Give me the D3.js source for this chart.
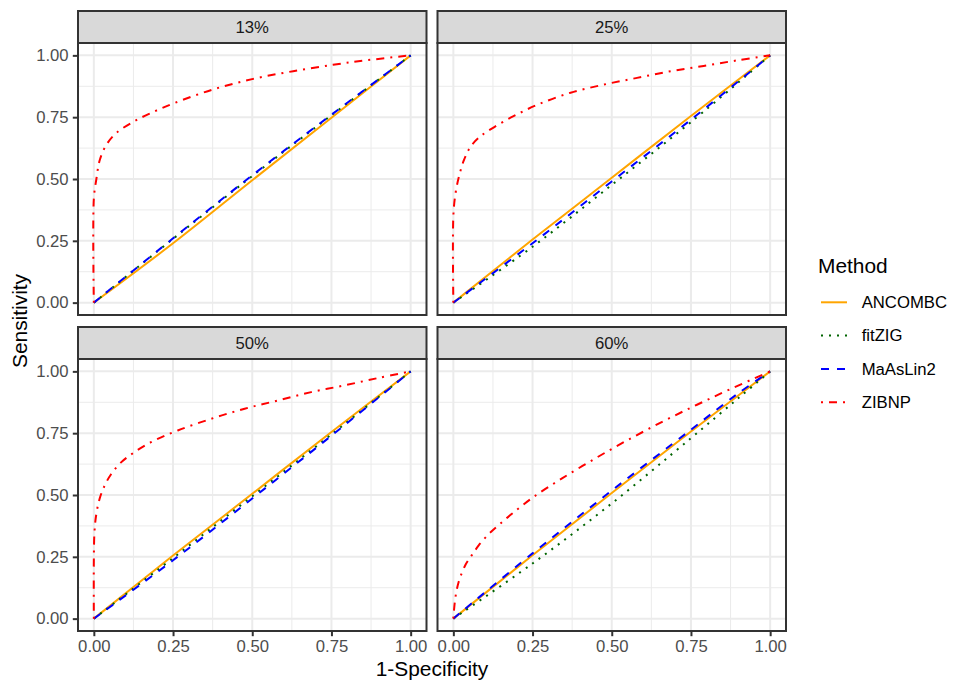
<!DOCTYPE html>
<html>
<head>
<meta charset="utf-8">
<script src="https://cdn.jsdelivr.net/npm/d3@7"></script>
<style>
  body { margin: 0; background: #fff; }
  svg { display: block; }
  text { font-family: "Liberation Sans", Arial, Helvetica, sans-serif; }
</style>
</head>
<body>
<div id="chart"></div>
<script>
const panels     = ["13%", "25%", "50%", "60%"];
const methods    = ["ANCOMBC", "fitZIG", "MaAsLin2", "ZIBNP"];
const ticks      = [0, 0.25, 0.5, 0.75, 1];
const tickLabels = ["0.00", "0.25", "0.50", "0.75", "1.00"];
const minorTicks = [0.125, 0.375, 0.625, 0.875];

// [1-specificity, sensitivity], one curve per panel
const ancombc = [
  [[0, 0], [0.25, 0.24], [0.5, 0.495], [0.75, 0.748], [1, 1]],
  [[0, 0], [0.25, 0.255], [0.5, 0.505], [0.75, 0.755], [1, 1]],
  [[0, 0], [0.25, 0.255], [0.5, 0.505], [0.75, 0.755], [1, 1]],
  [[0, 0], [0.25, 0.256], [0.5, 0.508], [0.75, 0.757], [1, 1]]
];
const fitzig = [
  [[0, 0], [0.25, 0.258], [0.5, 0.512], [0.75, 0.758], [1, 1]],
  [[0, 0], [0.25, 0.226], [0.5, 0.476], [0.75, 0.73], [1, 1]],
  [[0, 0], [0.25, 0.245], [0.5, 0.495], [0.75, 0.745], [1, 1]],
  [[0, 0], [0.25, 0.223], [0.5, 0.466], [0.75, 0.73], [0.9, 0.892], [1, 1]]
];
const maaslin2 = [
  [[0, 0], [0.25, 0.26], [0.5, 0.515], [0.75, 0.76], [1, 1]],
  [[0, 0], [0.25, 0.24], [0.5, 0.49], [0.75, 0.74], [1, 1]],
  [[0, 0], [0.25, 0.236], [0.5, 0.486], [0.75, 0.74], [1, 1]],
  [[0, 0], [0.25, 0.264], [0.5, 0.518], [0.75, 0.764], [0.9, 0.912], [1, 1]]
];
const zibnp = [
  [[0, 0], [0, 0.42], [0.008, 0.5], [0.019, 0.578], [0.04, 0.639], [0.071, 0.686], [0.124, 0.731],
   [0.177, 0.765], [0.25, 0.805], [0.376, 0.862], [0.503, 0.905], [0.629, 0.936], [0.755, 0.962],
   [0.86, 0.98], [1, 1]],
  [[0, 0], [0, 0.35], [0.007, 0.443], [0.018, 0.511], [0.034, 0.578], [0.055, 0.632], [0.086, 0.673],
   [0.128, 0.709], [0.19, 0.754], [0.265, 0.8], [0.37, 0.849], [0.476, 0.882], [0.58, 0.909],
   [0.686, 0.936], [0.79, 0.957], [0.897, 0.98], [1, 1]],
  [[0, 0], [0, 0.24], [0.002, 0.35], [0.007, 0.416], [0.018, 0.484], [0.034, 0.538], [0.055, 0.585],
   [0.086, 0.632], [0.128, 0.673], [0.19, 0.72], [0.265, 0.761], [0.37, 0.808], [0.476, 0.849],
   [0.58, 0.882], [0.686, 0.916], [0.79, 0.943], [0.897, 0.973], [1, 1]],
  [[0, 0], [0.006, 0.081], [0.017, 0.149], [0.038, 0.217], [0.059, 0.258], [0.08, 0.296],
   [0.111, 0.341], [0.143, 0.378], [0.185, 0.424], [0.25, 0.489], [0.343, 0.567], [0.448, 0.648],
   [0.553, 0.724], [0.664, 0.799], [0.769, 0.865], [0.874, 0.928], [1, 1]]
];

const series = [ancombc, fitzig, maaslin2, zibnp];
const colors = ["#FFA500", "#006400", "#0000FF", "#FF0000"];
const dashes = [null, "2,6", "8,8", "2,6,8,6"];

const width   = 969;
const height  = 692;
const colX    = [78, 437.5];
const rowY    = [11, 327];
const panelW  = 348.5;
const panelH  = 272;
const stripH  = 32;
const small   = 16.7;
const big     = 20.9;
const lw      = 2;

const svg = d3.select("#chart").append("svg")
  .attr("width", width)
  .attr("height", height);

const x = d3.scaleLinear().domain([-0.05, 1.05]).range([0, panelW]);
const y = d3.scaleLinear().domain([-0.05, 1.05]).range([stripH + panelH, stripH]);

const line = d3.line()
  .x(d => x(d[0]))
  .y(d => y(d[1]))
  .curve(d3.curveCatmullRom.alpha(0.5));

panels.forEach((name, i) => {
  const col = i % 2, row = Math.floor(i / 2);
  const g = svg.append("g")
    .attr("transform", "translate(" + colX[col] + "," + rowY[row] + ")");

  g.append("rect")
    .attr("y", stripH).attr("width", panelW).attr("height", panelH)
    .attr("fill", "#fff");

  // grid
  g.selectAll(".minor-v").data(minorTicks).enter().append("line")
    .attr("x1", d => x(d)).attr("x2", d => x(d))
    .attr("y1", stripH).attr("y2", stripH + panelH)
    .attr("stroke", "#EBEBEB").attr("stroke-width", 1);
  g.selectAll(".minor-h").data(minorTicks).enter().append("line")
    .attr("y1", d => y(d)).attr("y2", d => y(d))
    .attr("x1", 0).attr("x2", panelW)
    .attr("stroke", "#EBEBEB").attr("stroke-width", 1);
  g.selectAll(".major-v").data(ticks).enter().append("line")
    .attr("x1", d => x(d)).attr("x2", d => x(d))
    .attr("y1", stripH).attr("y2", stripH + panelH)
    .attr("stroke", "#EBEBEB").attr("stroke-width", lw);
  g.selectAll(".major-h").data(ticks).enter().append("line")
    .attr("y1", d => y(d)).attr("y2", d => y(d))
    .attr("x1", 0).attr("x2", panelW)
    .attr("stroke", "#EBEBEB").attr("stroke-width", lw);

  // curves
  const clipId = "clip" + i;
  g.append("clipPath").attr("id", clipId)
    .append("rect").attr("y", stripH).attr("width", panelW).attr("height", panelH);

  g.append("g").attr("clip-path", "url(#" + clipId + ")")
    .selectAll("path").data(series.map((s, k) => ({ pts: s[i], k })))
    .enter().append("path")
    .attr("d", d => line(d.pts))
    .attr("fill", "none")
    .attr("stroke", d => colors[d.k])
    .attr("stroke-width", lw)
    .attr("stroke-dasharray", d => dashes[d.k]);

  g.append("rect")
    .attr("y", stripH).attr("width", panelW).attr("height", panelH)
    .attr("fill", "none").attr("stroke", "#333333").attr("stroke-width", lw);

  // strip
  g.append("rect")
    .attr("width", panelW).attr("height", stripH)
    .attr("fill", "#D9D9D9").attr("stroke", "#333333").attr("stroke-width", lw);
  g.append("text")
    .attr("x", panelW / 2).attr("y", stripH / 2).attr("dy", "0.35em")
    .attr("text-anchor", "middle")
    .attr("font-size", small).attr("fill", "#1A1A1A")
    .text(name);

  // axes on the outer panels only
  if (col === 0) {
    const ax = g.append("g").call(d3.axisLeft(y).tickValues(ticks)
      .tickFormat((d, j) => tickLabels[j]).tickSize(5.2).tickPadding(4.2));
    styleAxis(ax);
  }
  if (row === 1) {
    const ax = g.append("g").attr("transform", "translate(0," + (stripH + panelH) + ")")
      .call(d3.axisBottom(x).tickValues(ticks)
      .tickFormat((d, j) => tickLabels[j]).tickSize(5.2).tickPadding(4.2));
    styleAxis(ax);
  }
});

function styleAxis(ax) {
  ax.select(".domain").remove();
  ax.selectAll(".tick line").attr("stroke", "#333333").attr("stroke-width", lw);
  ax.selectAll(".tick text")
    .attr("font-size", small)
    .attr("font-family", "'Liberation Sans', Arial, sans-serif")
    .attr("fill", "#4D4D4D");
}

// axis titles
svg.append("text")
  .attr("x", (colX[0] + colX[1] + panelW) / 2).attr("y", 676)
  .attr("text-anchor", "middle").attr("font-size", big).attr("fill", "#000")
  .text("1-Specificity");
svg.append("text")
  .attr("transform", "translate(27," + (rowY[0] + rowY[1] + stripH + panelH) / 2 + ") rotate(-90)")
  .attr("text-anchor", "middle").attr("font-size", big).attr("fill", "#000")
  .text("Sensitivity");

// legend
const legend = svg.append("g");
legend.append("text")
  .attr("x", 818).attr("y", 273)
  .attr("font-size", big).attr("fill", "#000")
  .text("Method");
methods.forEach((m, k) => {
  const ly = 302.3 + k * 33.3;
  legend.append("line")
    .attr("x1", 821).attr("x2", 847).attr("y1", ly).attr("y2", ly)
    .attr("stroke", colors[k]).attr("stroke-width", lw)
    .attr("stroke-dasharray", dashes[k]);
  legend.append("text")
    .attr("x", 861.7).attr("y", ly).attr("dy", "0.35em")
    .attr("font-size", small).attr("fill", "#000")
    .text(m);
});
</script>
</body>
</html>
